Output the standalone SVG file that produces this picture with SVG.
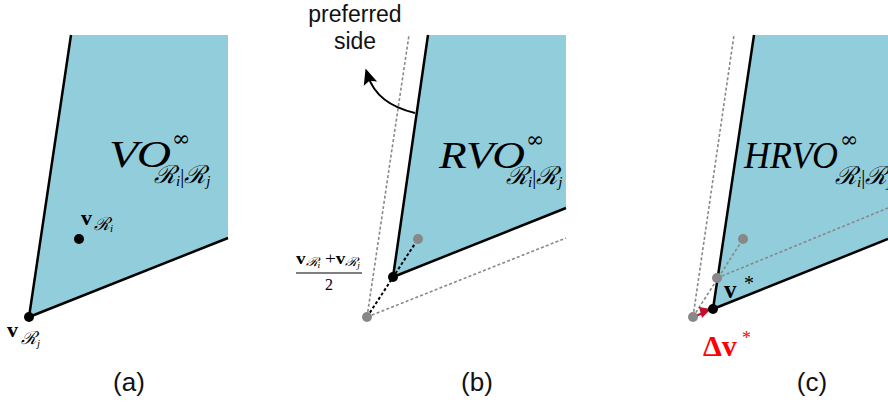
<svg xmlns="http://www.w3.org/2000/svg" width="888" height="405" viewBox="0 0 888 405">
<style>
.region{fill:#92CDDB;stroke:none}
.edge{fill:none;stroke:#000;stroke-width:2.5;stroke-linejoin:round}
.gdash{fill:none;stroke:#888;stroke-width:1.6;stroke-dasharray:3 2.2}
.bdash{fill:none;stroke:#000;stroke-width:2;stroke-dasharray:3 2.2}
.gdot{fill:#888}
.bdot{fill:#000}
.cap{font-family:"Liberation Sans",Arial,sans-serif;font-size:26px;fill:#111;text-anchor:middle}
.big{font-family:"Liberation Serif","Times New Roman",serif;font-style:italic;font-size:38px;fill:#000}
.inf{font-family:"DejaVu Serif","Liberation Serif",serif;font-size:22px;fill:#000}
.sub{font-family:"Liberation Serif","DejaVu Serif",serif;font-style:italic;font-size:25px;fill:#000}
.bv{font-family:"Liberation Serif","Times New Roman",serif;font-weight:bold;fill:#000}
.ssub{font-family:"Liberation Serif","DejaVu Serif",serif;font-style:italic;font-size:18px;fill:#000}
.lbl{font-family:"Liberation Sans",Arial,sans-serif;font-size:23px;fill:#111;text-anchor:middle}
</style>
<defs>
<marker id="ah" markerWidth="16" markerHeight="16" refX="8" refY="8" orient="auto" markerUnits="userSpaceOnUse" viewBox="0 0 16 16">
<path d="M0,1 L16,8 L0,15 L3,8 z" fill="#000"/>
</marker>
</defs>

<g id="panel-a">
<polygon class="region" points="71,35 228,35 228,238 29,317"/>
<text class="big" x="109" y="167" textLength="62" lengthAdjust="spacingAndGlyphs">VO</text>
<text class="inf" x="172" y="146">∞</text>
<text class="sub" x="154" y="183">ℛ<tspan font-size="15" dy="3">i</tspan><tspan dy="-3" font-style="normal" font-size="20">|</tspan>ℛ<tspan font-size="15" dy="3">j</tspan></text>
<g id="vRi">
<circle class="bdot" cx="79" cy="239" r="5"/>
<text class="bv" x="81" y="225" font-size="22">v</text>
<text class="ssub" x="94" y="230">ℛ<tspan font-size="11" dy="2">i</tspan></text>
</g>
<g id="vRj">
<circle class="bdot" cx="29" cy="317" r="5"/>
<text class="bv" x="7" y="337" font-size="22">v</text>
<text class="ssub" x="21" y="344">ℛ<tspan font-size="11" dy="3">j</tspan></text>
</g>
<text class="cap" x="129" y="391">(a)</text>
</g>

<g id="panel-b">
<polygon class="region" points="428,35 566,35 566,208 393,277"/>
<text class="big" x="439" y="168" textLength="86" lengthAdjust="spacingAndGlyphs">RVO</text>
<text class="inf" x="526" y="147">∞</text>
<text class="sub" x="506" y="184">ℛ<tspan font-size="15" dy="3">i</tspan><tspan dy="-3" font-style="normal" font-size="20">|</tspan>ℛ<tspan font-size="15" dy="3">j</tspan></text>
<g id="frac">
<text x="296" y="264" font-family="Liberation Serif,serif" font-size="16" fill="#000" textLength="64" lengthAdjust="spacingAndGlyphs"><tspan font-weight="bold">v</tspan><tspan font-style="italic" font-size="12" dy="2">ℛ</tspan><tspan font-style="italic" font-size="8" dy="2">i</tspan><tspan dy="-4"> +</tspan><tspan font-weight="bold">v</tspan><tspan font-style="italic" font-size="12" dy="2">ℛ</tspan><tspan font-style="italic" font-size="8" dy="2">j</tspan></text>
<line x1="296" y1="273" x2="362" y2="273" stroke="#000" stroke-width="1.2"/>
<text x="329" y="290" font-family="Liberation Serif,serif" font-size="16" fill="#000" text-anchor="middle">2</text>
</g>
<text class="lbl" x="355" y="22">preferred</text>
<text class="lbl" x="355" y="49">side</text>
<text class="cap" x="477" y="391">(b)</text>
</g>

<g id="panel-c">
<polygon class="region" points="754,35 888,35 888,239 713,309"/>
<text class="big" x="744" y="168" textLength="94" lengthAdjust="spacingAndGlyphs">HRVO</text>
<text class="inf" x="840" y="147">∞</text>
<text class="sub" x="835" y="184">ℛ<tspan font-size="15" dy="3">i</tspan><tspan dy="-3" font-style="normal" font-size="20">|</tspan>ℛ<tspan font-size="15" dy="3">j</tspan></text>
<text class="bv" x="724" y="298" font-size="25">v</text>
<text x="744" y="290" font-family="Liberation Serif,serif" font-size="20" fill="#000">*</text>
<text class="bv" x="703" y="356" font-size="30" style="fill:#FF0000">Δv</text>
<text x="742" y="344" font-family="Liberation Serif,serif" font-size="18" fill="#FF0000">*</text>
<text class="cap" x="812" y="391">(c)</text>
</g>

<g id="connectors">
<polyline class="edge" points="71,35 29,317 228,238"/>
<line class="gdash" x1="367" y1="317" x2="409" y2="35"/>
<line class="gdash" x1="367" y1="317" x2="566" y2="238"/>
<line class="bdash" x1="367" y1="317" x2="418" y2="239"/>
<polyline class="edge" points="428,35 393,277 566,208"/>
<path d="M415,113 Q377,104 368,76" fill="none" stroke="#000" stroke-width="2" marker-end="url(#ah)"/>
<line class="gdash" x1="693" y1="317" x2="734" y2="35"/>
<line class="gdash" x1="693" y1="317" x2="743" y2="239"/>
<line class="gdash" x1="717" y1="278" x2="888" y2="208"/>
<polyline class="edge" points="754,35 713,309 888,239"/>
<line x1="693" y1="317" x2="703" y2="313" stroke="#C0102E" stroke-width="2"/>
<polygon points="711,309 699,307 702,318" fill="#C0102E"/>
</g>

<g id="points">
<circle class="gdot" cx="367" cy="317" r="5"/>
<circle class="gdot" cx="418" cy="239" r="5"/>
<circle class="bdot" cx="393" cy="277" r="5"/>
<circle class="gdot" cx="693" cy="317" r="5"/>
<circle class="gdot" cx="743" cy="239" r="5"/>
<circle class="gdot" cx="717" cy="278" r="5"/>
<circle class="bdot" cx="713" cy="309" r="5"/>
</g>
</svg>
